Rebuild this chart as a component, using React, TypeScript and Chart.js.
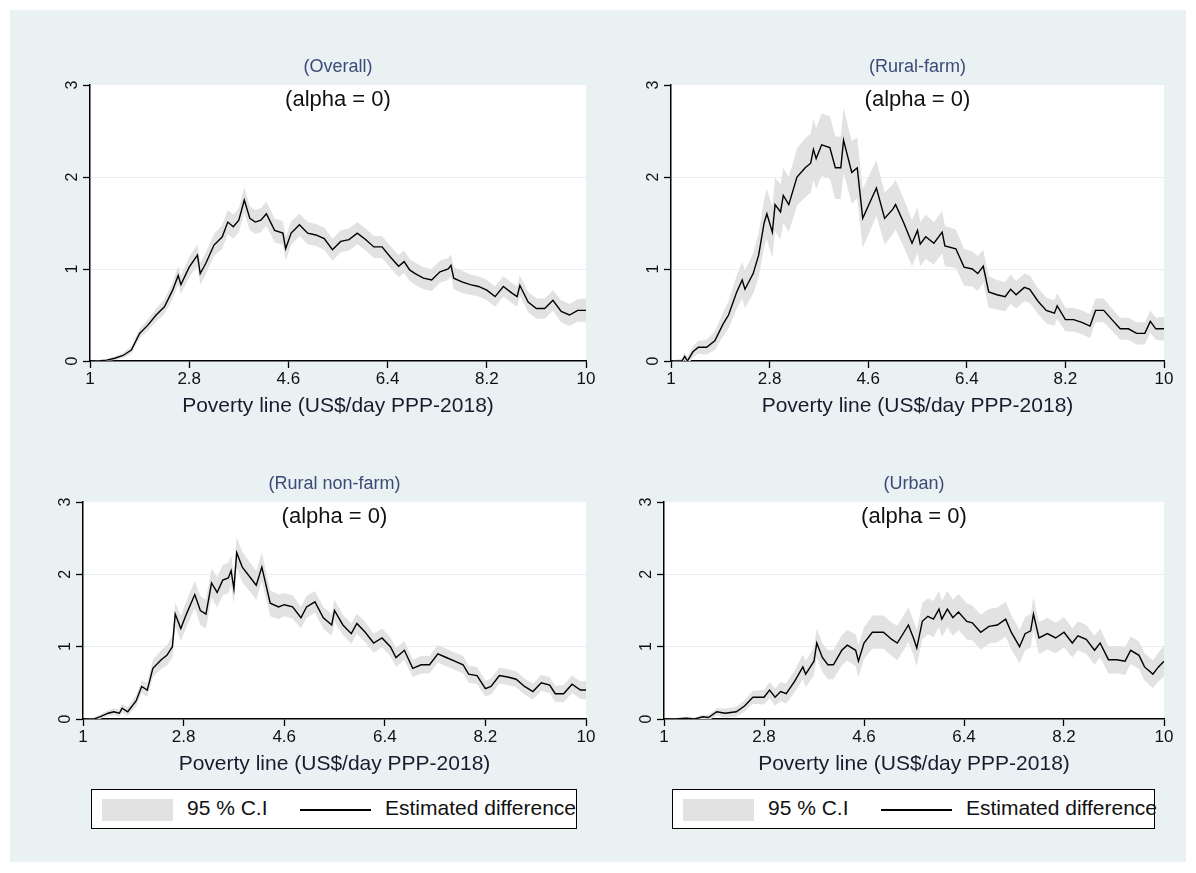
import { useEffect, useRef } from "react"
import { Chart, registerables } from "chart.js"

Chart.register(...registerables)

const X_TICKS = [1, 2.8, 4.6, 6.4, 8.2, 10]
const Y_TICKS = [0, 1, 2, 3]

// Overall
const overallX = [1, 1.15, 1.3, 1.45, 1.6, 1.75, 1.9, 2.05, 2.2, 2.35, 2.5, 2.6, 2.65, 2.8, 2.95, 3.0, 3.1, 3.25, 3.4, 3.5, 3.6, 3.7, 3.8, 3.9, 4.0, 4.1, 4.2, 4.35, 4.5, 4.55, 4.65, 4.8, 4.95, 5.1, 5.25, 5.4, 5.55, 5.7, 5.85, 6.0, 6.15, 6.3, 6.45, 6.6, 6.7, 6.8, 6.9, 7.05, 7.2, 7.35, 7.5, 7.55, 7.6, 7.75, 7.9, 8.05, 8.2, 8.35, 8.5, 8.65, 8.75, 8.8, 8.95, 9.1, 9.25, 9.4, 9.55, 9.7, 9.85, 10]
const overallY = [0, 0, 0.01, 0.03, 0.06, 0.12, 0.3, 0.39, 0.5, 0.59, 0.77, 0.93, 0.83, 1.02, 1.15, 0.95, 1.06, 1.26, 1.35, 1.51, 1.46, 1.53, 1.75, 1.55, 1.51, 1.53, 1.6, 1.42, 1.39, 1.22, 1.39, 1.48, 1.39, 1.37, 1.33, 1.21, 1.3, 1.32, 1.39, 1.32, 1.24, 1.24, 1.13, 1.03, 1.08, 0.99, 0.95, 0.9, 0.88, 0.97, 1.0, 1.04, 0.9, 0.86, 0.83, 0.81, 0.77, 0.7, 0.81, 0.74, 0.7, 0.82, 0.64, 0.57, 0.57, 0.66, 0.54, 0.5, 0.55, 0.55]
const overallCi = [0, 0.01, 0.01, 0.02, 0.03, 0.04, 0.05, 0.06, 0.07, 0.08, 0.09, 0.1, 0.1, 0.11, 0.12, 0.12, 0.12, 0.12, 0.13, 0.13, 0.13, 0.13, 0.14, 0.13, 0.13, 0.13, 0.13, 0.13, 0.13, 0.13, 0.13, 0.12, 0.12, 0.12, 0.12, 0.12, 0.12, 0.12, 0.12, 0.12, 0.12, 0.12, 0.12, 0.12, 0.12, 0.12, 0.12, 0.12, 0.12, 0.12, 0.12, 0.12, 0.12, 0.12, 0.11, 0.11, 0.11, 0.11, 0.11, 0.11, 0.11, 0.11, 0.11, 0.11, 0.11, 0.11, 0.12, 0.12, 0.12, 0.13]

// Rural-farm
const farmX = [1, 1.2, 1.25, 1.3, 1.4, 1.5, 1.65, 1.8, 1.95, 2.05, 2.2, 2.3, 2.35, 2.5, 2.6, 2.7, 2.75, 2.85, 2.9, 3.0, 3.05, 3.15, 3.3, 3.45, 3.55, 3.6, 3.65, 3.75, 3.9, 4.0, 4.1, 4.15, 4.3, 4.4, 4.5, 4.65, 4.75, 4.9, 5.05, 5.1, 5.25, 5.4, 5.5, 5.55, 5.65, 5.8, 5.95, 6.0, 6.2, 6.35, 6.5, 6.6, 6.7, 6.8, 6.95, 7.1, 7.2, 7.3, 7.45, 7.55, 7.7, 7.85, 8.0, 8.05, 8.2, 8.35, 8.5, 8.65, 8.75, 8.9, 9.05, 9.2, 9.35, 9.5, 9.65, 9.75, 9.85, 10]
const farmY = [0, 0, 0.05, 0, 0.1, 0.15, 0.15, 0.22, 0.4, 0.5, 0.75, 0.88, 0.78, 0.95, 1.15, 1.5, 1.6, 1.4, 1.7, 1.62, 1.8, 1.7, 2.0, 2.1, 2.15, 2.3, 2.2, 2.35, 2.32, 2.1, 2.1, 2.4, 2.05, 2.1, 1.55, 1.75, 1.88, 1.55, 1.65, 1.7, 1.5, 1.28, 1.42, 1.27, 1.35, 1.28, 1.4, 1.25, 1.22, 1.02, 1.0, 0.95, 1.03, 0.75, 0.72, 0.7, 0.78, 0.72, 0.8, 0.78, 0.65, 0.55, 0.52, 0.6, 0.45, 0.45, 0.42, 0.38, 0.55, 0.55, 0.45, 0.35, 0.35, 0.3, 0.3, 0.43, 0.35, 0.35]
const farmCi = [0, 0.03, 0.04, 0.05, 0.06, 0.07, 0.08, 0.1, 0.13, 0.15, 0.18, 0.2, 0.2, 0.22, 0.24, 0.26, 0.27, 0.28, 0.29, 0.3, 0.3, 0.3, 0.31, 0.32, 0.32, 0.33, 0.33, 0.34, 0.34, 0.34, 0.34, 0.35, 0.34, 0.33, 0.32, 0.31, 0.3, 0.28, 0.27, 0.27, 0.26, 0.25, 0.25, 0.24, 0.24, 0.23, 0.23, 0.22, 0.21, 0.2, 0.19, 0.19, 0.18, 0.17, 0.16, 0.16, 0.16, 0.15, 0.15, 0.15, 0.14, 0.14, 0.14, 0.14, 0.13, 0.13, 0.13, 0.13, 0.13, 0.13, 0.12, 0.12, 0.12, 0.12, 0.12, 0.12, 0.12, 0.13]

// Rural non-farm
const nonFarmX = [1, 1.2, 1.3, 1.45, 1.55, 1.65, 1.7, 1.8, 1.95, 2.05, 2.15, 2.25, 2.4, 2.5, 2.6, 2.65, 2.75, 2.85, 3.0, 3.1, 3.2, 3.3, 3.4, 3.5, 3.6, 3.65, 3.7, 3.75, 3.85, 4.0, 4.1, 4.2, 4.35, 4.5, 4.6, 4.75, 4.9, 5.0, 5.15, 5.3, 5.45, 5.5, 5.65, 5.8, 5.9, 6.05, 6.2, 6.35, 6.5, 6.6, 6.75, 6.9, 7.05, 7.2, 7.35, 7.5, 7.65, 7.8, 7.9, 8.05, 8.2, 8.3, 8.45, 8.6, 8.75, 8.9, 9.05, 9.2, 9.35, 9.45, 9.6, 9.75, 9.9, 10]
const nonFarmY = [0, 0, 0.03, 0.08, 0.1, 0.08, 0.15, 0.1, 0.25, 0.45, 0.4, 0.7, 0.82, 0.88, 1.0, 1.45, 1.25, 1.45, 1.72, 1.5, 1.45, 1.88, 1.75, 1.92, 1.95, 2.05, 1.8, 2.3, 2.1, 1.95, 1.85, 2.1, 1.6, 1.55, 1.58, 1.55, 1.4, 1.55, 1.62, 1.4, 1.3, 1.5, 1.3, 1.18, 1.32, 1.2, 1.05, 1.12, 1.0, 0.85, 0.95, 0.7, 0.75, 0.75, 0.9, 0.85, 0.8, 0.75, 0.62, 0.6, 0.42, 0.45, 0.6, 0.58, 0.55, 0.45, 0.38, 0.5, 0.47, 0.35, 0.35, 0.48, 0.4, 0.4]
const nonFarmCi = [0, 0.02, 0.03, 0.04, 0.05, 0.05, 0.06, 0.06, 0.08, 0.09, 0.1, 0.12, 0.13, 0.14, 0.15, 0.16, 0.17, 0.18, 0.19, 0.2, 0.2, 0.2, 0.21, 0.21, 0.21, 0.21, 0.21, 0.21, 0.21, 0.2, 0.2, 0.2, 0.18, 0.17, 0.16, 0.16, 0.15, 0.15, 0.15, 0.15, 0.15, 0.15, 0.14, 0.14, 0.14, 0.14, 0.13, 0.13, 0.13, 0.13, 0.13, 0.12, 0.12, 0.12, 0.12, 0.12, 0.12, 0.12, 0.12, 0.12, 0.11, 0.11, 0.11, 0.11, 0.11, 0.11, 0.11, 0.11, 0.11, 0.11, 0.12, 0.12, 0.12, 0.13]

// Urban
const urbanX = [1, 1.2, 1.4, 1.55, 1.7, 1.8, 1.95, 2.1, 2.3, 2.45, 2.6, 2.8, 2.9, 3.0, 3.1, 3.2, 3.35, 3.5, 3.55, 3.7, 3.75, 3.85, 3.95, 4.05, 4.2, 4.3, 4.45, 4.5, 4.6, 4.75, 4.95, 5.1, 5.2, 5.4, 5.5, 5.55, 5.65, 5.75, 5.85, 5.95, 6.0, 6.1, 6.2, 6.3, 6.45, 6.55, 6.7, 6.85, 7.0, 7.15, 7.25, 7.4, 7.5, 7.6, 7.65, 7.75, 7.9, 8.05, 8.2, 8.35, 8.45, 8.6, 8.75, 8.85, 9.0, 9.15, 9.3, 9.4, 9.55, 9.65, 9.8, 9.9, 10]
const urbanY = [0, 0, 0.01, 0, 0.03, 0.02, 0.1, 0.08, 0.1, 0.18, 0.3, 0.3, 0.4, 0.3, 0.38, 0.35, 0.52, 0.72, 0.62, 0.8, 1.05, 0.85, 0.75, 0.75, 0.95, 1.02, 0.95, 0.8, 1.05, 1.2, 1.2, 1.1, 1.05, 1.3, 1.1, 0.98, 1.35, 1.42, 1.38, 1.52, 1.38, 1.52, 1.4, 1.48, 1.35, 1.33, 1.2, 1.28, 1.3, 1.38, 1.2, 1.0, 1.18, 1.22, 1.45, 1.12, 1.18, 1.12, 1.2, 1.05, 1.15, 1.1, 0.95, 1.05, 0.82, 0.82, 0.8, 0.95, 0.88, 0.72, 0.62, 0.72, 0.8]
const urbanCi = [0, 0.01, 0.02, 0.02, 0.03, 0.04, 0.05, 0.06, 0.07, 0.08, 0.09, 0.1, 0.11, 0.12, 0.13, 0.14, 0.15, 0.17, 0.18, 0.19, 0.2, 0.2, 0.2, 0.2, 0.21, 0.21, 0.22, 0.22, 0.22, 0.23, 0.23, 0.23, 0.24, 0.24, 0.24, 0.25, 0.25, 0.25, 0.25, 0.25, 0.25, 0.25, 0.25, 0.25, 0.25, 0.24, 0.24, 0.24, 0.24, 0.24, 0.24, 0.23, 0.23, 0.23, 0.23, 0.22, 0.22, 0.21, 0.21, 0.2, 0.2, 0.2, 0.2, 0.2, 0.19, 0.19, 0.19, 0.19, 0.19, 0.19, 0.19, 0.2, 0.21]

const FONT = "'Liberation Sans', Arial, sans-serif"
const BAND = "#e2e2e2"

interface PanelProps {
  title: string
  xs: number[]
  ys: number[]
  ci: number[]
  box: { left: number; top: number; width: number; height: number }
  plot: { left: number; top: number; right: number; bottom: number }
}

function Panel({ title, xs, ys, ci, box, plot }: PanelProps) {
  const canvasRef = useRef<HTMLCanvasElement>(null)

  useEffect(() => {
    if (!canvasRef.current) return
    const line = xs.map((x, i) => ({ x, y: ys[i] }))
    const lower = xs.map((x, i) => ({ x, y: ys[i] - ci[i] }))
    const upper = xs.map((x, i) => ({ x, y: ys[i] + ci[i] }))

    const panelText = {
      id: "panelText",
      beforeDraw(chart: Chart) {
        const { ctx, chartArea } = chart
        ctx.save()
        ctx.fillStyle = "#ffffff"
        ctx.fillRect(chartArea.left, chartArea.top, chartArea.right - chartArea.left, chartArea.bottom - chartArea.top)
        ctx.restore()
      },
      afterDraw(chart: Chart) {
        const { ctx, chartArea } = chart
        const cx = (chartArea.left + chartArea.right) / 2
        ctx.save()
        ctx.textAlign = "center"
        ctx.textBaseline = "middle"
        ctx.fillStyle = "#3c4a78"
        ctx.font = `18px ${FONT}`
        ctx.fillText(title, cx, chartArea.top - 18)
        ctx.fillStyle = "#111111"
        ctx.font = `22px ${FONT}`
        ctx.fillText("(alpha = 0)", cx, chartArea.top + 15)
        ctx.fillStyle = "#1a1a2e"
        ctx.font = `21px ${FONT}`
        ctx.fillText("Poverty line (US$/day PPP-2018)", cx, chartArea.bottom + 45)
        const yScale = chart.scales.y
        ctx.font = `16px ${FONT}`
        ctx.fillStyle = "#111111"
        Y_TICKS.forEach((v) => {
          const py = yScale.getPixelForValue(v)
          ctx.save()
          ctx.translate(chartArea.left - 17, py)
          ctx.rotate(-Math.PI / 2)
          ctx.fillText(String(v), 0, 0)
          ctx.restore()
        })
        ctx.restore()
      },
    }

    const chart = new Chart(canvasRef.current, {
      type: "line",
      data: {
        datasets: [
          { data: line, borderColor: "#000000", borderWidth: 1.4, pointRadius: 0, fill: false },
          { data: lower, borderWidth: 0, pointRadius: 0, fill: false, backgroundColor: BAND },
          { data: upper, borderWidth: 0, pointRadius: 0, fill: "-1", backgroundColor: BAND },
        ],
      },
      options: {
        animation: false,
        responsive: false,
        layout: { padding: { top: plot.top - box.top, right: box.left + box.width - plot.right, left: 0, bottom: 0 } },
        plugins: { legend: { display: false }, tooltip: { enabled: false } },
        scales: {
          x: {
            type: "linear",
            min: 1,
            max: 10,
            afterBuildTicks: (s: any) => {
              s.ticks = X_TICKS.map((v) => ({ value: v }))
            },
            afterFit: (s: any) => {
              s.height = box.top + box.height - plot.bottom
            },
            border: { color: "#000000", width: 1.5 },
            grid: { drawOnChartArea: false, tickLength: 7, tickColor: "#000000", tickWidth: 1.3 },
            ticks: {
              font: { family: FONT, size: 17 },
              color: "#111111",
              padding: 1,
              maxRotation: 0,
              callback: (v: any) => String(v),
            },
          },
          y: {
            min: 0,
            max: 3,
            afterBuildTicks: (s: any) => {
              s.ticks = Y_TICKS.map((v) => ({ value: v }))
            },
            afterFit: (s: any) => {
              s.width = plot.left - box.left
            },
            border: { color: "#000000", width: 1.5 },
            grid: {
              color: (c: any) => (c.tick && (c.tick.value === 1 || c.tick.value === 2) ? "#e4eff1" : "rgba(0,0,0,0)"),
              tickColor: "#000000",
              tickLength: 7,
              tickWidth: 1.3,
            },
            ticks: { display: false },
          },
        },
      },
      plugins: [panelText],
    })
    return () => chart.destroy()
  }, [])

  return (
    <canvas
      ref={canvasRef}
      width={box.width}
      height={box.height}
      style={{ position: "absolute", left: box.left, top: box.top, width: box.width, height: box.height }}
    />
  )
}

function Legend({ left, width }: { left: number; width: number }) {
  const text: React.CSSProperties = { position: "absolute", top: 6, fontSize: 21, fontFamily: FONT, color: "#111", whiteSpace: "nowrap" }
  return (
    <div style={{ position: "absolute", left, top: 789, width, height: 40, border: "1.5px solid #000", background: "#fff", boxSizing: "border-box" }}>
      <div style={{ position: "absolute", left: 10, top: 9, width: 71, height: 22, background: BAND }} />
      <div style={{ ...text, left: 95 }}>95 % C.I</div>
      <div style={{ position: "absolute", left: 208, top: 19, width: 71, height: 1.5, background: "#000" }} />
      <div style={{ ...text, left: 293 }}>Estimated difference</div>
    </div>
  )
}

export default function App() {
  return (
    <div style={{ position: "absolute", left: 0, top: 0, width: 1196, height: 873, background: "#ffffff" }}>
      <div style={{ position: "absolute", left: 10, top: 10, width: 1176, height: 852, background: "#eaf1f2" }} />
      <Panel title="(Overall)" xs={overallX} ys={overallY} ci={overallCi}
        box={{ left: 10, top: 20, width: 595, height: 400 }}
        plot={{ left: 90, top: 85, right: 586, bottom: 361 }} />
      <Panel title="(Rural-farm)" xs={farmX} ys={farmY} ci={farmCi}
        box={{ left: 605, top: 20, width: 581, height: 400 }}
        plot={{ left: 671, top: 85, right: 1164, bottom: 361 }} />
      <Panel title="(Rural non-farm)" xs={nonFarmX} ys={nonFarmY} ci={nonFarmCi}
        box={{ left: 10, top: 440, width: 595, height: 340 }}
        plot={{ left: 83, top: 502, right: 586, bottom: 719 }} />
      <Panel title="(Urban)" xs={urbanX} ys={urbanY} ci={urbanCi}
        box={{ left: 605, top: 440, width: 581, height: 340 }}
        plot={{ left: 664, top: 502, right: 1164, bottom: 719 }} />
      <Legend left={91} width={486} />
      <Legend left={672} width={483} />
    </div>
  )
}
